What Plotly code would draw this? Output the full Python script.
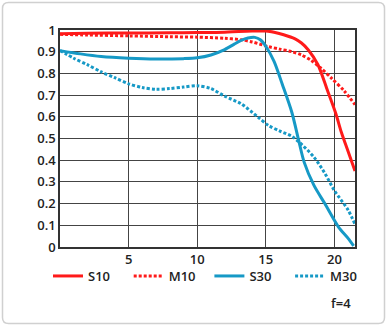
import plotly.graph_objects as go

# ---- data ----
S10_x = [0, 2, 5, 8, 10, 12, 13, 14, 15, 15.6, 16.3, 17.1, 17.6, 18.1, 18.8, 19.5, 20.1, 20.5, 21, 21.5]
S10_y = [0.983, 0.985, 0.986, 0.987, 0.988, 0.99, 0.993, 0.995, 0.995, 0.99, 0.978, 0.96, 0.94, 0.908, 0.84, 0.72, 0.615, 0.53, 0.44, 0.35]

M10_x = [0, 2, 5, 8, 10, 12, 13.2, 14, 15.2, 16, 16.9, 17.6, 18.3, 19, 19.8, 20.7, 21.5]
M10_y = [0.98, 0.977, 0.973, 0.969, 0.967, 0.962, 0.955, 0.945, 0.923, 0.912, 0.9, 0.885, 0.86, 0.825, 0.777, 0.72, 0.656]

S30_x = [0, 1.5, 3, 5, 7, 9, 10, 11, 12, 12.7, 13.2, 13.7, 14.2, 14.6, 15, 15.6, 16.2, 16.9, 17.4, 17.8, 18.5, 19.3, 20.3, 21, 21.4]
S30_y = [0.905, 0.89, 0.878, 0.87, 0.866, 0.868, 0.872, 0.885, 0.91, 0.935, 0.952, 0.963, 0.966, 0.955, 0.925, 0.855, 0.75, 0.62, 0.49, 0.39, 0.285, 0.2, 0.092, 0.04, 0.005]

M30_x = [0, 1, 2, 3, 4, 5, 6, 7, 8, 9, 10, 11, 12, 13.2, 14.4, 15.2, 16, 16.9, 17.4, 18.5, 19.3, 20, 21, 21.5]
M30_y = [0.905, 0.87, 0.84, 0.807, 0.78, 0.752, 0.735, 0.727, 0.73, 0.737, 0.743, 0.73, 0.695, 0.66, 0.6, 0.56, 0.535, 0.51, 0.485, 0.415, 0.34, 0.26, 0.17, 0.105]

x_tickvals = [5, 10, 15, 20]
x_ticktext = ["5", "10", "15", "20"]
y_tickvals = [0, 0.1, 0.2, 0.3, 0.4, 0.5, 0.6, 0.7, 0.8, 0.9, 1]
y_ticktext = ["0", "0.1", "0.2", "0.3", "0.4", "0.5", "0.6", "0.7", "0.8", "0.9", "1"]

RED = "#ff1a1a"
BLUE = "#1699c6"
FONT = "Open Sans"

fig = go.Figure()
fig.add_trace(go.Scatter(x=S10_x, y=S10_y, name="S10", mode="lines",
                         line=dict(color=RED, width=3, shape="spline", smoothing=0.8)))
fig.add_trace(go.Scatter(x=M10_x, y=M10_y, name="M10", mode="lines",
                         line=dict(color=RED, width=3, dash="3px,2px", shape="spline", smoothing=0.8)))
fig.add_trace(go.Scatter(x=S30_x, y=S30_y, name="S30", mode="lines",
                         line=dict(color=BLUE, width=3, shape="spline", smoothing=0.8)))
fig.add_trace(go.Scatter(x=M30_x, y=M30_y, name="M30", mode="lines",
                         line=dict(color=BLUE, width=3, dash="3px,2px", shape="spline", smoothing=0.8)))

L, R, T, B = 60, 32, 30, 80
W, H = 387, 327
pw, ph = W - L - R, H - T - B

def px2paper_x(px):
    return (px - L) / pw

def px2paper_y(py):
    return (H - B - py) / ph

# rounded outer frame
x0, x1 = px2paper_x(2.5), px2paper_x(384.5)
y0, y1 = px2paper_y(323.5), px2paper_y(2.5)
rx, ry = 6 / pw, 6 / ph
path = (f"M {x0+rx},{y1} L {x1-rx},{y1} Q {x1},{y1} {x1},{y1-ry} "
        f"L {x1},{y0+ry} Q {x1},{y0} {x1-rx},{y0} L {x0+rx},{y0} "
        f"Q {x0},{y0} {x0},{y0+ry} L {x0},{y1-ry} Q {x0},{y1} {x0+rx},{y1} Z")
fig.add_shape(type="path", path=path, xref="paper", yref="paper",
              line=dict(color="#d0d0d0", width=1.5), layer="below")

fig.add_annotation(text="f=4", xref="paper", yref="paper",
                   x=px2paper_x(353), y=px2paper_y(303), xanchor="right", yanchor="middle",
                   showarrow=False, font=dict(family=FONT, size=13, color="#222", weight=600))

fig.update_layout(
    width=W, height=H,
    margin=dict(l=L, r=R, t=T, b=B),
    paper_bgcolor="white", plot_bgcolor="white",
    font=dict(family=FONT, size=13, color="#222", weight=600),
    showlegend=True,
    legend=dict(orientation="h", x=px2paper_x(48), y=px2paper_y(261), xanchor="left", yanchor="top",
                entrywidth=35.7, entrywidthmode="pixels", itemwidth=30,
                font=dict(family=FONT, size=13, color="#222", weight=600),
                bgcolor="rgba(0,0,0,0)", tracegroupgap=0),
)
fig.update_xaxes(range=[0, 21.5], tickvals=x_tickvals, ticktext=x_ticktext,
                 showgrid=True, gridcolor="#444", gridwidth=1,
                 showline=True, linecolor="#333", linewidth=1.5, mirror=True,
                 zeroline=False, ticks="", fixedrange=True)
fig.update_yaxes(range=[0, 1], tickvals=y_tickvals, ticktext=y_ticktext,
                 showgrid=True, gridcolor="#444", gridwidth=1,
                 showline=True, linecolor="#333", linewidth=1.5, mirror=True,
                 zeroline=False, ticks="", fixedrange=True)

fig.write_html("out.html")
